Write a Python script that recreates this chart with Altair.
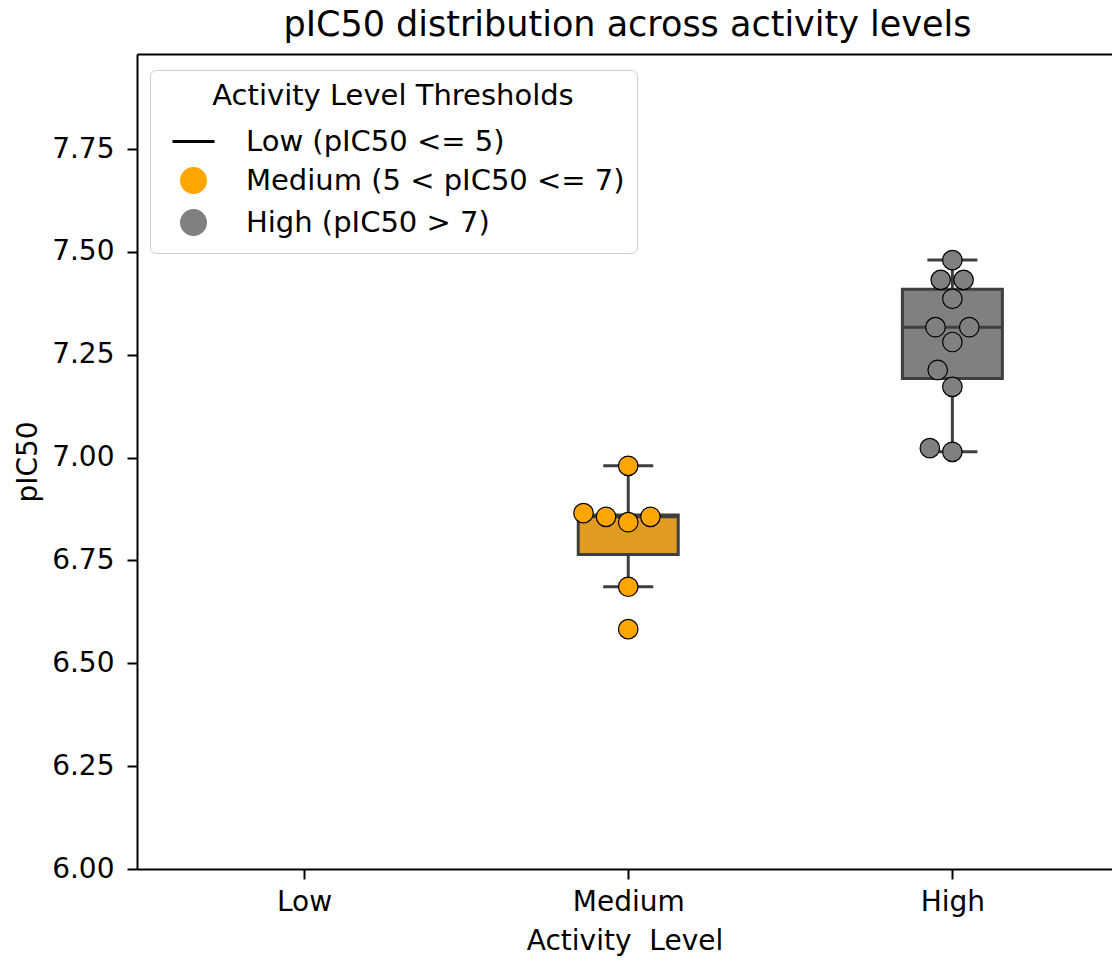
import altair as alt
import numpy as np
import pandas as pd

# ---------------- data ----------------
levels = ["Low", "Medium", "High"]
medium_pic50 = [6.980, 6.865, 6.856, 6.843, 6.856, 6.686, 6.583]
high_pic50 = [7.480, 7.432, 7.432, 7.386, 7.317, 7.317, 7.281, 7.213, 7.172, 7.023, 7.014]

legend_labels = ["Low (pIC50 <= 5)", "Medium (5 < pIC50 <= 7)", "High (pIC50 > 7)"]
legend_colors = ["black", "#FFA500", "#808080"]
legend_shapes = ["stroke", "circle", "circle"]

box_levels = ["Medium", "High"]
box_colors = ["#DF9C20", "#808080"]
point_colors = ["#FFA500", "#808080"]

y_ticks = [6.0, 6.25, 6.5, 6.75, 7.0, 7.25, 7.5, 7.75]

# ---------------- layout ----------------
PLOT_W, PLOT_H = 975, 815
X_MIN, X_MAX = -0.5, 2.477
Y_MIN, Y_MAX = 6.0, 7.981
FONT = "DejaVu Sans"
EDGE = "#3f3f3f"

XPX = PLOT_W / (X_MAX - X_MIN)
YPX = PLOT_H / (Y_MAX - Y_MIN)
R_PX = 11.0


def beeswarm_offsets(values, r, ypx, xpx):
    """seaborn-like beeswarm: offsets (in category units) from the value axis"""
    vals = np.asarray(values, float)
    order = np.argsort(vals, kind="stable")
    placed = []
    offsets = np.zeros(len(vals))
    for i in order:
        y = vals[i] * ypx
        neigh = []
        for xj, yj in reversed(placed):
            if y - yj < 2 * r:
                neigh.append((xj, yj))
            else:
                break
        neigh = neigh[::-1]
        cands = [0.0]
        left_first = True
        for xj, yj in neigh:
            dx = np.sqrt(max((2 * r) ** 2 - (y - yj) ** 2, 0)) * 1.05
            cands.extend([xj - dx, xj + dx] if left_first else [xj + dx, xj - dx])
            left_first = not left_first
        cands = sorted(cands, key=abs)
        chosen = cands[0]
        for c in cands:
            if all((c - xj) ** 2 + (y - yj) ** 2 >= (2 * r) ** 2 - 1e-9 for xj, yj in neigh):
                chosen = c
                break
        placed.append((chosen, y))
        offsets[i] = chosen / xpx
    return offsets


rows = []
for lvl, vals in (("Medium", medium_pic50), ("High", high_pic50)):
    idx = levels.index(lvl)
    offs = beeswarm_offsets(vals, R_PX, YPX, XPX)
    for v, o in zip(vals, offs):
        rows.append({"level": lvl, "idx": idx, "pIC50": v, "xpos": idx + o})
df = pd.DataFrame(rows)

xscale = alt.Scale(domain=[X_MIN, X_MAX], nice=False, zero=False)
yscale = alt.Scale(domain=[Y_MIN, Y_MAX], nice=False, zero=False)
XTITLE = "Activity\u00a0 Level"
YTITLE = "pIC50"
y_axis = alt.Axis(values=y_ticks, format=".2f", grid=False, title=YTITLE, orient="left")


def Y(field):
    return alt.Y(field, scale=yscale, title=YTITLE, axis=y_axis)


base = alt.Chart(df)

# whiskers (1.5 IQR rule)
whisk = base.transform_joinaggregate(
    q1="q1(pIC50)", q3="q3(pIC50)", groupby=["level"]
).transform_calculate(
    lo_f="datum.q1 - 1.5*(datum.q3-datum.q1)",
    hi_f="datum.q3 + 1.5*(datum.q3-datum.q1)",
).transform_filter(
    "datum.pIC50 >= datum.lo_f && datum.pIC50 <= datum.hi_f"
).transform_aggregate(
    lo="min(pIC50)", hi="max(pIC50)", groupby=["level", "idx"]
)

whisk_rule = whisk.mark_rule(color=EDGE, strokeWidth=3, opacity=1).encode(
    x=alt.X("idx:Q", scale=xscale, title=None,
            axis=alt.Axis(orient="top", labels=False, ticks=False, title=None,
                          domain=True, grid=False)),
    y=Y("lo:Q"),
    y2="hi:Q",
)
cap_lo = whisk.mark_tick(orient="horizontal", size=50, thickness=3, color=EDGE, opacity=1).encode(
    x=alt.X("idx:Q", scale=xscale, axis=None),
    y=Y("lo:Q"),
)
cap_hi = whisk.mark_tick(orient="horizontal", size=50, thickness=3, color=EDGE, opacity=1).encode(
    x=alt.X("idx:Q", scale=xscale, axis=None),
    y=Y("hi:Q"),
)

stats = base.transform_aggregate(
    q1="q1(pIC50)", q3="q3(pIC50)", med="median(pIC50)", groupby=["level", "idx"]
)
box = stats.mark_bar(size=100, stroke=EDGE, strokeWidth=3, opacity=1).encode(
    x=alt.X("idx:Q", scale=xscale, title=XTITLE,
            axis=alt.Axis(orient="bottom", values=[0, 1, 2],
                          labelExpr="['Low','Medium','High'][datum.value]",
                          grid=False, title=XTITLE)),
    y=Y("q1:Q"),
    y2="q3:Q",
    color=alt.Color("level:N", scale=alt.Scale(domain=box_levels, range=box_colors), legend=None),
)
median = stats.mark_tick(orient="horizontal", size=100, thickness=3, color=EDGE, opacity=1).encode(
    x=alt.X("idx:Q", scale=xscale, axis=None),
    y=Y("med:Q"),
)

points = base.mark_point(filled=True, size=380, stroke="black", strokeWidth=1.2, opacity=1).encode(
    x=alt.X("xpos:Q", scale=xscale, axis=None),
    y=Y("pIC50:Q"),
    color=alt.Color("level:N", scale=alt.Scale(domain=box_levels, range=point_colors), legend=None),
)

# legend helper layer (clipped away; only its legend is visible)
LTITLE = "Activity Level Thresholds"
leg_df = pd.DataFrame({"label": legend_labels})
legend_layer = alt.Chart(leg_df).mark_point(filled=True, opacity=1, strokeWidth=3, clip=True).encode(
    x=alt.value(-500),
    y=alt.value(-500),
    fill=alt.Fill("label:N", title=LTITLE,
                  scale=alt.Scale(domain=legend_labels, range=legend_colors),
                  legend=alt.Legend(orient="none", legendX=13, legendY=16)),
    stroke=alt.Stroke("label:N", title=LTITLE,
                      scale=alt.Scale(domain=legend_labels, range=legend_colors)),
    shape=alt.Shape("label:N", title=LTITLE,
                    scale=alt.Scale(domain=legend_labels, range=legend_shapes)),
    size=alt.Size("label:N", title=LTITLE,
                  scale=alt.Scale(type="ordinal", domain=legend_labels, range=[1764, 576, 576])),
)

chart = alt.layer(
    whisk_rule, cap_lo, cap_hi, box, median, points, legend_layer
).resolve_scale(
    color="independent"
).resolve_axis(
    x="independent"
).properties(
    width=PLOT_W,
    height=PLOT_H,
    padding={"left": 137, "top": 54, "right": 0, "bottom": 96},
    autosize=alt.AutoSizeParams(type="none"),
    background="white",
    title=alt.TitleParams("pIC50 distribution across activity levels", dx=3),
).configure(
    font=FONT
).configure_view(
    stroke=None
).configure_title(
    font=FONT, fontSize=35, fontWeight="normal", color="black",
    anchor="middle", baseline="bottom", offset=11,
).configure_axis(
    labelFont=FONT, titleFont=FONT, labelFontSize=28, titleFontSize=28,
    labelColor="black", titleColor="black", titleFontWeight="normal",
    tickColor="black", domainColor="black", tickSize=10, tickWidth=2,
    domainWidth=2, grid=False,
).configure_axisX(
    labelPadding=9, titlePadding=11,
).configure_axisY(
    labelPadding=13, titlePadding=9,
).configure_legend(
    labelFont=FONT, titleFont=FONT, labelFontSize=29, titleFontSize=29,
    labelColor="black", titleColor="black", titleFontWeight="normal",
    titleAnchor="middle", labelLimit=0, titleLimit=0,
    fillColor="white", strokeColor="#cccccc", cornerRadius=6, padding=12,
    labelOffset=30, rowPadding=5, titlePadding=8, symbolStrokeWidth=3,
    symbolOffset=9,
)

chart.save("out.html", embed_options={"renderer": "svg", "actions": False})
